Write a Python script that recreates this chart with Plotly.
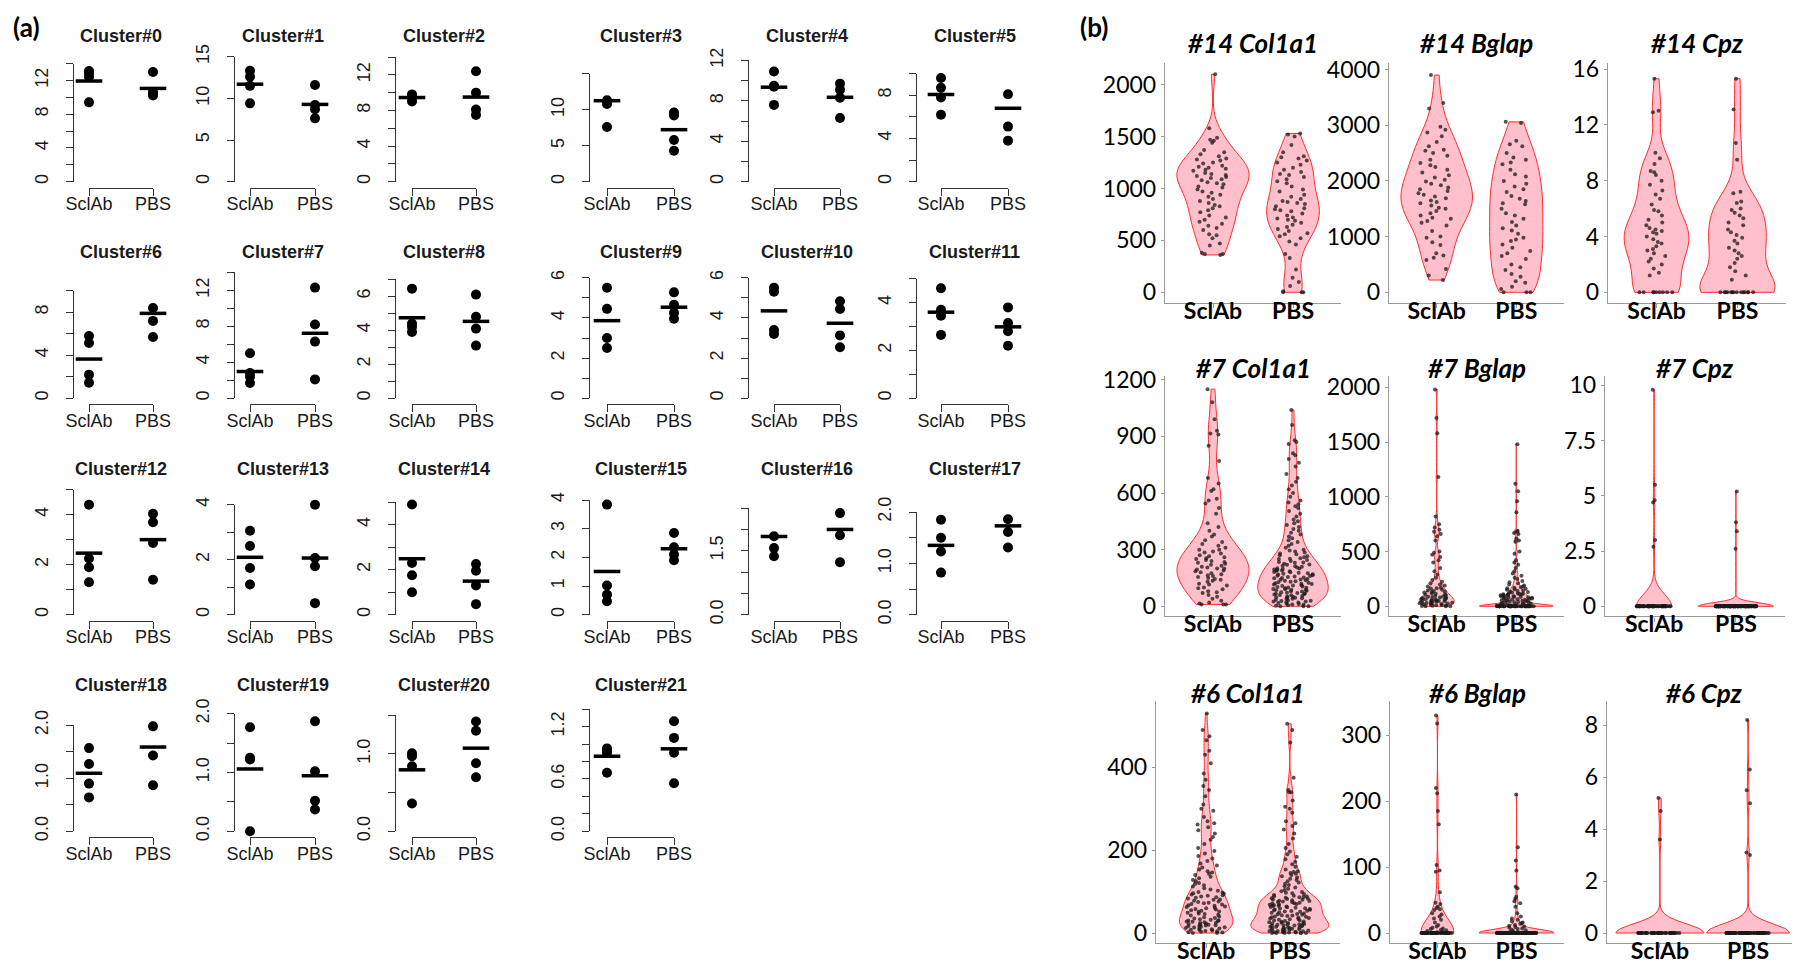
import plotly.graph_objects as go

W, H = 1800, 962
GROUPS = ["SclAb", "PBS"]

# ---------------- panel (a): per-mouse values (4 per group) ----------------
CLUSTERS = ["Cluster#0", "Cluster#1", "Cluster#2", "Cluster#3", "Cluster#4", "Cluster#5",
            "Cluster#6", "Cluster#7", "Cluster#8", "Cluster#9", "Cluster#10", "Cluster#11",
            "Cluster#12", "Cluster#13", "Cluster#14", "Cluster#15", "Cluster#16", "Cluster#17",
            "Cluster#18", "Cluster#19", "Cluster#20", "Cluster#21"]

SCLAB = [
    [13.1, 12.8, 12.4, 9.4], [13.3, 12.6, 11.5, 9.4], [9.8, 9.6, 9.4, 9.0], [15.3, 11.3, 10.8, 7.6],
    [10.9, 9.5, 9.4, 7.6], [9.6, 8.7, 7.8, 6.2], [5.8, 5.15, 2.2, 1.45], [5.0, 2.8, 2.4, 1.7],
    [6.45, 4.4, 4.2, 3.9], [5.5, 4.45, 3.0, 2.5], [5.5, 5.3, 3.4, 3.2], [4.6, 3.7, 3.45, 2.65],
    [4.4, 2.25, 1.9, 1.3], [3.05, 2.5, 1.7, 1.1], [4.9, 2.3, 1.75, 1.0], [3.84, 1.02, 0.7, 0.47],
    [2.56, 1.84, 1.56, 1.37], [1.85, 1.5, 1.23, 0.82], [1.57, 1.27, 0.9, 0.64], [1.77, 1.25, 1.22, 0.0],
    [1.01, 0.97, 0.84, 0.36], [0.95, 0.92, 0.9, 0.67],
]
PBS = [
    [13.0, 10.6, 10.4, 10.2], [11.6, 9.2, 8.7, 7.6], [12.4, 10.0, 8.1, 7.5], [9.6, 9.2, 5.8, 4.3],
    [9.7, 9.1, 8.3, 6.3], [10.2, 8.1, 5.1, 3.8], [10.3, 8.4, 7.2, 5.7], [12.3, 8.2, 6.3, 2.1],
    [6.1, 4.8, 4.1, 3.1], [5.27, 4.65, 4.25, 3.96], [4.83, 4.44, 3.13, 2.54], [3.8, 3.15, 2.8, 2.2],
    [4.04, 3.7, 2.87, 1.4], [4.0, 2.06, 1.76, 0.42], [2.25, 1.95, 1.3, 0.47], [2.85, 2.35, 2.1, 1.9],
    [2.52, 2.38, 1.86, 1.23], [2.14, 1.86, 1.61, 1.31], [2.08, 1.98, 1.43, 0.87], [1.87, 1.02, 0.52, 0.37],
    [1.42, 1.3, 0.88, 0.7], [1.26, 1.07, 0.9, 0.55],
]

YT_14 = [0, 2, 4, 6, 8, 10, 12, 14]
YL_14 = ["0", "", "4", "", "8", "", "12", ""]
YT_15 = [0, 5, 10, 15]
YT_12 = [0, 2, 4, 6, 8, 10, 12]
YL_12 = ["0", "", "4", "", "8", "", "12"]
YT_10 = [0, 2, 4, 6, 8, 10]
YL_10 = ["0", "", "4", "", "8", ""]
YT_7 = [0, 1, 2, 3, 4, 5, 6, 7]
YL_7 = ["0", "", "2", "", "4", "", "6", ""]
YT_6 = [0, 1, 2, 3, 4, 5, 6]
YL_6 = ["0", "", "2", "", "4", "", "6"]
YT_5 = [0, 1, 2, 3, 4, 5]
YL_5 = ["0", "", "2", "", "4", ""]
YT_4 = [0, 1, 2, 3, 4]
YT_25 = [0, 0.5, 1.0, 1.5, 2.0, 2.5]
YT_20 = [0, 0.5, 1.0, 1.5, 2.0]
YL_20 = ["0.0", "", "1.0", "", "2.0"]
YT_1p5 = [0, 0.5, 1.0, 1.5]
YT_1p4 = [0, 0.2, 0.4, 0.6, 0.8, 1.0, 1.2, 1.4]

YTICKS = [YT_14, YT_15, YT_14, YT_15, YT_12, YT_10, YT_10, YT_14, YT_7, YT_6, YT_6, YT_5,
          YT_5, YT_4, YT_5, YT_4, YT_25, YT_20, YT_20, YT_20, YT_1p5, YT_1p4]
YLABELS = [YL_14, ["0", "5", "10", "15"], YL_14, ["0", "5", "10", ""], YL_12, YL_10, YL_10, YL_14,
           YL_7, YL_6, YL_6, YL_5, YL_5, ["0", "", "2", "", "4"], YL_5, ["0", "1", "2", "3", "4"],
           ["0.0", "", "", "1.5", "", ""], YL_20, YL_20, YL_20, ["0.0", "", "1.0", ""],
           ["0.0", "", "", "0.6", "", "", "1.2", ""]]

# ---------------- panel (b): single-cell expression values ----------------
GENE_TITLES = ["#14 Col1a1", "#14 Bglap", "#14 Cpz", "#7 Col1a1", "#7 Bglap", "#7 Cpz",
               "#6 Col1a1", "#6 Bglap", "#6 Cpz"]

c14_col1a1_sclab = [2100, 1580, 1490, 1470, 1460, 1440, 1370, 1350, 1330, 1310, 1290, 1280, 1270, 1250, 1240,
                    1220, 1210, 1200, 1190, 1180, 1170, 1150, 1140, 1130, 1120, 1110, 1100, 1090, 1080, 1060,
                    1050, 1040, 1020, 1010, 990, 970, 960, 940, 920, 900, 880, 860, 840, 830, 810, 790, 770,
                    740, 720, 700, 680, 660, 640, 620, 600, 560, 550, 520, 470, 450, 380, 370, 370, 360]
c14_col1a1_pbs = [1530, 1520, 1500, 1420, 1350, 1310, 1300, 1290, 1270, 1250, 1230, 1200, 1180, 1160, 1140,
                  1130, 1110, 1090, 1070, 1050, 1020, 990, 970, 940, 920, 900, 880, 870, 860, 850, 830, 810,
                  800, 790, 780, 760, 740, 720, 710, 700, 690, 670, 650, 630, 610, 590, 570, 560, 540, 520,
                  490, 460, 370, 330, 220, 140, 100, 60, 10, 0, 0, 0]
c14_bglap_sclab = [3900, 3400, 3300, 2970, 2920, 2870, 2800, 2700, 2620, 2560, 2540, 2500, 2450, 2380, 2320,
                   2280, 2250, 2200, 2150, 2100, 2060, 2020, 1990, 1950, 1920, 1880, 1850, 1820, 1780, 1750,
                   1720, 1690, 1650, 1620, 1600, 1560, 1520, 1500, 1460, 1420, 1380, 1340, 1320, 1280, 1250,
                   1200, 1100, 1000, 980, 900, 850, 700, 660, 620, 580, 420, 300, 220]
c14_bglap_pbs = [3060, 3040, 2720, 2660, 2620, 2500, 2420, 2380, 2330, 2300, 2200, 2120, 2080, 2000, 1950,
                 1900, 1850, 1800, 1730, 1680, 1640, 1600, 1580, 1500, 1420, 1380, 1320, 1260, 1200, 1150,
                 1110, 1050, 980, 950, 920, 860, 800, 740, 700, 650, 600, 500, 450, 400, 330, 280, 200, 170,
                 100, 60, 0, 0, 0]
c14_cpz_sclab = [15.3, 13.0, 12.9, 10.0, 9.6, 9.2, 8.7, 8.6, 8.4, 8.0, 7.7, 7.3, 7.0, 6.7, 6.3, 5.9, 5.8,
                 5.5, 5.2, 5.0, 4.8, 4.6, 4.5, 4.4, 4.3, 4.2, 4.0, 3.8, 3.6, 3.5, 3.3, 3.1, 3.0, 2.8, 2.6,
                 2.4, 2.2, 2.0, 1.7, 1.4, 1.2, 0, 0, 0, 0, 0, 0, 0, 0, 0]
c14_cpz_pbs = [15.3, 13.1, 10.7, 9.5, 7.2, 7.1, 6.5, 6.4, 6.0, 5.9, 5.7, 5.5, 5.3, 5.0, 4.8, 4.5, 4.3, 4.1,
               3.9, 3.7, 3.5, 3.2, 3.0, 2.8, 2.6, 2.4, 2.1, 1.8, 1.5, 1.2, 0.9,
               0, 0, 0, 0, 0, 0, 0, 0, 0, 0, 0, 0, 0, 0]
c7_col1a1_sclab = [1150, 1080, 990, 930, 915, 910, 850, 770, 680, 650, 620, 610, 570, 560, 545, 520, 490,
                   440, 420, 400, 380, 370, 350, 340, 330, 320, 310, 300, 300, 290, 285, 280, 270, 265, 260,
                   255, 250, 245, 240, 235, 230, 225, 220, 215, 210, 205, 200, 200, 195, 190, 185, 180, 175,
                   170, 165, 160, 155, 150, 145, 140, 135, 130, 120, 115, 110, 100, 95, 90, 80, 75, 70, 60,
                   50, 40, 30, 20, 15, 10, 10, 10]
c7_col1a1_pbs = [1040, 960, 880, 870, 860, 810, 800, 780, 760, 740, 700, 680, 660, 640, 620, 600, 580, 560,
                 550, 540, 530, 520, 505, 490, 475, 460, 450, 440, 430, 420, 410, 400, 390, 380, 370, 360,
                 350, 340, 330, 320, 310, 300, 295, 290, 285, 280, 275, 270, 265, 260, 255, 250, 245, 240,
                 235, 230, 225, 220, 215, 210, 205, 200, 198, 195, 190, 188, 185, 180, 178, 175, 170, 168,
                 165, 160, 158, 155, 150, 148, 145, 140, 138, 135, 130, 128, 125, 120, 118, 115, 110, 108,
                 105, 100, 98, 95, 92, 90, 88, 85, 82, 80, 78, 75, 72, 70, 68, 65, 62, 60, 58, 55, 52, 50,
                 48, 45, 42, 40, 38, 35, 32, 30, 28, 25, 22, 20, 18, 15, 12, 10, 8, 5, 3, 0, 0, 0,
                 112, 132, 152, 172, 192, 212, 232, 252, 142, 162, 182, 202, 222, 102, 122, 86, 66, 46, 26]
c7_bglap_sclab = [1980, 1720, 1580, 1180, 820, 750, 720, 700, 680, 660, 640, 600, 500, 490, 470, 450, 420,
                  400, 350, 320, 290, 260, 240, 225, 210, 200, 190, 180, 170, 165, 160, 150, 145, 140, 135,
                  130, 125, 120, 115, 110, 105, 100, 95, 90, 88, 85, 80, 78, 75, 72, 70, 65, 62, 60, 58, 55,
                  52, 50, 48, 45, 42, 40, 38, 35, 32, 30, 28, 25, 22, 20, 18, 15, 12, 10, 8, 5, 3, 0, 0, 0]
c7_bglap_pbs = [1480, 1120, 1050, 960, 860, 690, 680, 670, 660, 620, 600, 590, 500, 480, 420, 400, 380, 350,
                320, 300, 280, 260, 250, 230, 220, 210, 200, 190, 180, 175, 170, 165, 160, 155, 150, 145,
                140, 135, 130, 125, 120, 118, 115, 112, 110, 108, 105, 102, 100, 98, 95, 92, 90, 88, 85,
                82, 80, 78, 75, 72, 70, 68, 65, 62, 60, 58, 55, 52, 50, 48, 45, 42, 40, 38, 35, 32, 30, 28,
                25, 22, 20, 18, 15, 12, 10, 8, 6, 5, 4, 3, 2, 1] + [0] * 40
c7_cpz_sclab = [9.8, 5.5, 4.8, 4.7, 3.0, 2.7] + [0] * 60
c7_cpz_pbs = [5.2, 3.8, 3.4, 2.6] + [0] * 120
c6_col1a1_sclab = [0, 0, 1, 2, 3, 5, 6, 8, 9, 11, 12, 14, 15, 17, 18, 20, 21, 23, 24, 26, 27, 29, 30, 32,
                   33, 35, 36, 38, 40, 42, 44, 46, 47, 49, 4, 7, 10, 13, 16, 19, 22, 25, 28, 31,
                   51, 52, 54, 55, 57, 58, 60, 61, 63, 64, 66, 67, 69, 70, 72, 73, 75, 76, 78, 80, 81, 83,
                   85, 86, 88, 90, 91, 93, 95, 96, 98, 99,
                   102, 105, 108, 112, 115, 118, 121, 125, 128, 132, 136, 140, 143, 146, 149,
                   153, 158, 163, 168, 174, 180, 186, 192, 198,
                   205, 215, 225, 232, 240, 248,
                   255, 262, 265, 270, 280, 295, 300, 345, 355, 385, 310, 330, 370,
                   410, 430, 440, 465, 475, 490, 530]
c6_col1a1_pbs = [0, 0, 0, 0, 1, 1, 2, 3, 4, 5, 5, 6, 7, 8, 9, 10, 11, 12, 13, 14, 15, 16, 17, 18, 19, 20,
                 21, 22, 23, 24, 25, 26, 27, 28, 29, 30, 31, 32, 33, 34, 35, 36, 37, 38, 39, 40, 41, 42, 43,
                 44, 45, 46, 47, 49, 0, 0, 2, 4, 6, 8, 10, 12, 15, 18, 21, 24,
                 50, 51, 52, 53, 54, 55, 56, 57, 58, 59, 60, 61, 62, 63, 64, 65, 66, 67, 68, 69, 70, 71, 72,
                 73, 74, 75, 76, 77, 78, 79, 80, 81, 82, 83, 84, 85, 86, 87, 88, 89, 90, 92, 94, 96, 97, 99,
                 101, 104, 107, 110, 113, 116, 119, 122, 125, 128, 131, 134, 137, 140, 143, 145, 147, 149,
                 153, 160, 166, 172, 178, 184, 190, 197,
                 205, 215, 228, 240, 250,
                 258, 265, 270, 290, 300, 305, 320, 340, 345, 375, 340, 460, 490, 505]
c6_bglap_sclab = [330, 318, 220, 212, 185, 165, 103, 95, 93, 62, 46, 44, 40, 38, 36, 35, 30, 28, 25, 22, 20,
                  16, 12, 10, 8, 7, 6, 5, 4, 3, 2, 1] + [0] * 50
c6_bglap_pbs = [210, 130, 110, 95, 70, 68, 55, 52, 48, 45, 40, 30, 25, 22, 20, 18, 16, 15, 14, 12, 11, 10,
                9, 8, 7, 6, 5, 4, 3, 2, 1] + [0] * 90
c6_cpz_sclab = [5.2, 4.7, 3.6] + [0] * 50
c6_cpz_pbs = [8.2, 6.3, 5.5, 5.0, 3.1, 3.0] + [0] * 70

VIOLIN_SCLAB = [c14_col1a1_sclab, c14_bglap_sclab, c14_cpz_sclab, c7_col1a1_sclab, c7_bglap_sclab,
                c7_cpz_sclab, c6_col1a1_sclab, c6_bglap_sclab, c6_cpz_sclab]
VIOLIN_PBS = [c14_col1a1_pbs, c14_bglap_pbs, c14_cpz_pbs, c7_col1a1_pbs, c7_bglap_pbs,
              c7_cpz_pbs, c6_col1a1_pbs, c6_bglap_pbs, c6_cpz_pbs]
VIOLIN_YTICKS = [[0, 500, 1000, 1500, 2000], [0, 1000, 2000, 3000, 4000], [0, 4, 8, 12, 16],
                 [0, 300, 600, 900, 1200], [0, 500, 1000, 1500, 2000], [0, 2.5, 5, 7.5, 10],
                 [0, 200, 400], [0, 100, 200, 300], [0, 2, 4, 6, 8]]
VIOLIN_YTEXT = [["0", "500", "1000", "1500", "2000"], ["0", "1000", "2000", "3000", "4000"],
                ["0", "4", "8", "12", "16"], ["0", "300", "600", "900", "1200"],
                ["0", "500", "1000", "1500", "2000"], ["0", "2.5", "5", "7.5", "10"],
                ["0", "200", "400"], ["0", "100", "200", "300"], ["0", "2", "4", "6", "8"]]

# ---------------- styling / geometry (pixels) ----------------
FONT_A = "Liberation Sans, Arial, Helvetica, sans-serif"
FONT_B = "Lato, Open Sans, sans-serif"
INK = "#1a1a1a"
AXIS_A = "#333333"
AXIS_B = "#9a9a9a"

COL_AXIS_PX = [65, 226, 387, 581, 740, 908]
COL_SCL_PX = [81, 242, 404, 599, 766, 933]
COL_PBS_PX = [145, 307, 468, 666, 832, 1000]
ROW_ZERO_PX = [173.7, 390.3, 606.7, 823.3]
TOP_PX = [55.5, 48.7, 49, 65.7, 52.4, 65.7, 282.8, 264.3, 271.3, 269.7, 269.7, 270.7,
          481.7, 496.7, 494.2, 492, 500, 504, 717.3, 705.7, 707.3, 701.1]

# violin panels: left, right, bottom, top, zero_px, ref_val, ref_px
VPANEL = [
    (1157, 1333, 295, 55, 284.3, 2000, 76.7),
    (1381, 1556, 295, 55, 284.3, 4000, 61.5),
    (1600, 1778, 295, 55, 284.3, 16, 61),
    (1157, 1333, 608.3, 368, 598.3, 1200, 371.7),
    (1381, 1556, 608.3, 368, 598.3, 2000, 379.3),
    (1597, 1777, 608.3, 368, 598.3, 10, 377.3),
    (1148, 1332, 935, 693, 925, 400, 759.3),
    (1382, 1556, 935, 693, 925, 300, 727.3),
    (1599, 1793, 935, 693, 925, 8, 717.3),
]
TITLE_Y_PX = [35, 360, 685]
BW_SCL = [120, 280, 1.2, 80, 38, 0.54, 22, 18, 0.35]
BW_PBS = [140, 330, 1.2, 54, 16, 0.16, 16, 5, 0.35]
WID_SCL = [0.9, 0.9, 0.8, 0.9, 0.44, 0.43, 0.64, 0.41, 1.0]
WID_PBS = [0.66, 0.67, 0.93, 0.88, 0.92, 0.92, 0.93, 0.95, 0.94]


def px_x(v):
    return v / W


def px_y(v):
    return 1 - v / H


fig = go.Figure()
layout = {}
annotations = []

# ---------------- panel (a) ----------------
for i, name in enumerate(CLUSTERS):
    r, c = divmod(i, 6)
    k = i + 1
    xs = "x" if k == 1 else f"x{k}"
    ys = "y" if k == 1 else f"y{k}"
    xk = "xaxis" if k == 1 else f"xaxis{k}"
    yk = "yaxis" if k == 1 else f"yaxis{k}"
    zero = ROW_ZERO_PX[r]
    layout[xk] = dict(
        domain=[px_x(COL_SCL_PX[c]), px_x(COL_PBS_PX[c])], type="category",
        categoryorder="array", categoryarray=GROUPS, range=[0, 1],
        anchor="free", position=px_y(zero + 6), showline=True, linecolor=AXIS_A, linewidth=1.2,
        ticks="outside", ticklen=7, tickcolor=AXIS_A, tickwidth=1.2, ticklabelstandoff=-7,
        tickfont=dict(family=FONT_A, size=18, color=INK), showgrid=False, zeroline=False,
        fixedrange=True)
    layout[yk] = dict(
        domain=[px_y(zero), px_y(TOP_PX[i])], range=[0, YTICKS[i][-1]],
        anchor="free", position=px_x(COL_AXIS_PX[c]), showline=True, linecolor=AXIS_A,
        linewidth=1.2, ticks="outside", ticklen=7, tickcolor=AXIS_A, tickwidth=1.2,
        tickvals=YTICKS[i], ticktext=YLABELS[i], tickangle=-90, ticklabelstandoff=11,
        tickfont=dict(family=FONT_A, size=18, color=INK), showgrid=False, zeroline=False,
        fixedrange=True)
    s, p = SCLAB[i], PBS[i]
    fig.add_trace(go.Scatter(
        x=[GROUPS[0]] * len(s) + [GROUPS[1]] * len(p), y=s + p, mode="markers",
        marker=dict(size=10, color="black"), cliponaxis=False, showlegend=False,
        xaxis=xs, yaxis=ys))
    fig.add_trace(go.Scatter(
        x=GROUPS, y=[sum(s) / len(s), sum(p) / len(p)], mode="markers",
        marker=dict(symbol="line-ew", size=19, line=dict(width=3.5, color="black")),
        cliponaxis=False, showlegend=False, xaxis=xs, yaxis=ys))
    annotations.append(dict(
        x=px_x((COL_SCL_PX[c] + COL_PBS_PX[c]) / 2), y=px_y(zero - 146), xref="paper", yref="paper",
        text=f"<b>{name}</b>", showarrow=False, xanchor="center", yanchor="middle",
        font=dict(family=FONT_A, size=18, color=INK)))

# ---------------- panel (b) ----------------
for j, title in enumerate(GENE_TITLES):
    k = 23 + j
    xs, ys = f"x{k}", f"y{k}"
    left, right, bottom, top, zero, rv, rpx = VPANEL[j]
    ppu = (zero - rpx) / rv
    y0 = -(bottom - zero) / ppu
    y1 = (zero - top) / ppu
    layout[f"xaxis{k}"] = dict(
        domain=[px_x(left), px_x(right)], type="category", categoryorder="array",
        categoryarray=GROUPS, range=[-0.6, 1.6], anchor=ys, showline=True, linecolor=AXIS_B,
        linewidth=1.4, ticks="outside", ticklen=4, tickcolor=AXIS_B, ticklabelstandoff=-17,
        tickfont=dict(family=FONT_B, size=23, color="black", weight="bold"),
        showgrid=False, zeroline=False, fixedrange=True)
    layout[f"yaxis{k}"] = dict(
        domain=[px_y(bottom), px_y(top)], range=[y0, y1], anchor=xs, showline=True,
        linecolor=AXIS_B, linewidth=1.4, ticks="outside", ticklen=3, tickcolor=AXIS_B,
        tickvals=VIOLIN_YTICKS[j], ticktext=VIOLIN_YTEXT[j],
        tickfont=dict(family=FONT_B, size=23, color="black"),
        showgrid=False, zeroline=False, fixedrange=True)
    for g, vals, bw, wd in ((GROUPS[0], VIOLIN_SCLAB[j], BW_SCL[j], WID_SCL[j]),
                            (GROUPS[1], VIOLIN_PBS[j], BW_PBS[j], WID_PBS[j])):
        fig.add_trace(go.Violin(
            x=[g] * len(vals), y=vals, xaxis=xs, yaxis=ys, spanmode="hard", bandwidth=bw,
            width=wd, scalemode="width", fillcolor="#ffc0cb",
            line=dict(color="#ff2b2b", width=1), points="all", pointpos=0,
            jitter=min(1.0, 0.5 / wd),
            marker=dict(size=4, color="rgba(25,25,25,0.75)", line=dict(width=0)),
            box_visible=False, meanline_visible=False, showlegend=False, opacity=1))
    annotations.append(dict(
        x=px_x((left + right) / 2), y=px_y(TITLE_Y_PX[j // 3]), xref="paper", yref="paper",
        text=f"<b><i>{title}</i></b>", showarrow=False, xanchor="center", yanchor="middle",
        font=dict(family=FONT_B, size=26, color="black")))

annotations.append(dict(x=px_x(3), y=px_y(19), xref="paper", yref="paper", text="<b>(a)</b>",
                        showarrow=False, xanchor="left", yanchor="middle",
                        font=dict(family=FONT_B, size=26, color="black")))
annotations.append(dict(x=px_x(1070), y=px_y(19), xref="paper", yref="paper", text="<b>(b)</b>",
                        showarrow=False, xanchor="left", yanchor="middle",
                        font=dict(family=FONT_B, size=26, color="black")))

fig.update_layout(
    width=W, height=H, margin=dict(l=0, r=0, t=0, b=0, autoexpand=False),
    paper_bgcolor="white", plot_bgcolor="rgba(0,0,0,0)", violinmode="overlay",
    annotations=annotations, **layout)

fig.write_html("out.html")
